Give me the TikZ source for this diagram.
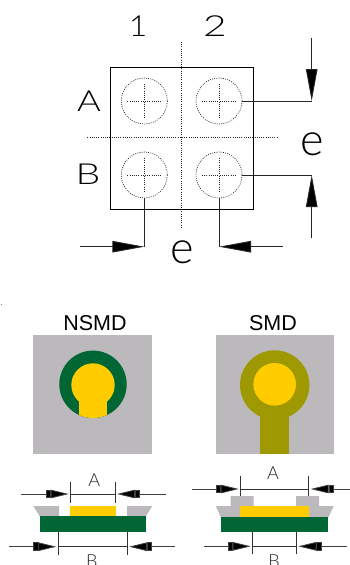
\documentclass[tikz,border=0pt]{standalone}
\usepackage{fontspec}
\setmainfont{Liberation Sans}
\newfontfamily\thinfont{Lato Light}
\usetikzlibrary{arrows.meta}
\definecolor{padgrey}{HTML}{BBB9BC}
\definecolor{pcbgreen}{HTML}{006633}
\definecolor{padyellow}{HTML}{FFCC00}
\definecolor{padolive}{HTML}{9E9900}
\tikzset{
  x=1pt,y=-1pt,
  outline/.style={draw=black,line width=0.9pt},
  dotline/.style={draw=black!85,line width=0.7pt,dash pattern=on 0.9pt off 1.3pt},
  leader/.style={draw=black!85,line width=0.9pt},
  bigtip/.style={leader,-{Triangle[length=32pt,width=11.5pt,fill=black]}},
  smalltip/.style={draw=black!75,line width=0.8pt,-{Square[length=5pt,width=8.5pt,fill=black]Triangle[length=18pt,width=8.5pt,fill=black]}},
  tick/.style={draw=black!80,line width=0.7pt},
  biglabel/.style={anchor=base,inner sep=0pt,font=\thinfont\fontsize{29}{29}\selectfont},
  elabel/.style={anchor=base,inner sep=0pt,font=\thinfont\fontsize{45}{45}\selectfont},
  smalllabel/.style={anchor=base,inner sep=0pt,font=\thinfont\fontsize{18}{18}\selectfont,text=black!85},
  title/.style={anchor=base,inner sep=0pt,font=\fontsize{21.5}{21.5}\selectfont},
}
\begin{document}
\begin{tikzpicture}
\useasboundingbox (0,0) rectangle (350,565);
% --- top: ball grid
\draw[outline] (110.3,67.3) rectangle (253.7,209);
\draw[dotline] (181.7,42) -- (181.7,229);
\draw[dotline] (87.3,137.7) -- (276.7,137.7);
\foreach \n/\cx/\cy in {a1/144.3/101,a2/219/101,b1/144.3/175,b2/219/175}{
  \coordinate (\n) at (\cx,\cy);
  \draw[dotline] (\n) circle[radius=23];
  \draw[dotline] (\cx-17,\cy) -- (\cx+17,\cy);
  \draw[dotline] (\cx,\cy-17) -- (\cx,\cy+17);
}
\coordinate (a2e) at (241.9,101);
\coordinate (b2e) at (241.9,175);
\coordinate (b1s) at (144.3,198);
\coordinate (b2s) at (219,198);
\coordinate (rt) at (311.7,101);
\coordinate (rb) at (311.7,175);
\coordinate (bl) at (144.3,246.7);
\coordinate (br) at (219,246.7);
\coordinate (rtf) at (311.7,37.7);
\coordinate (rbf) at (311.7,238.3);
\coordinate (blf) at (80,246.7);
\coordinate (brf) at (283.3,246.7);
\draw[leader] (a2e) -- (rt);
\draw[leader] (b2e) -- (rb);
\draw[leader] (b1s) -- (bl);
\draw[leader] (b2s) -- (br);
\draw[bigtip] (rtf) -- (rt);
\draw[bigtip] (rbf) -- (rb);
\draw[bigtip] (blf) -- (bl);
\draw[bigtip] (brf) -- (br);
\node[biglabel,xscale=1.1] (n1) at (138,36) {1};
\node[biglabel,xscale=1.4] (n2) at (215,36) {2};
\node[biglabel,xscale=1.25] (la) at (89,111.7) {A};
\node[biglabel,xscale=1.35] (lb) at (88,184.3) {B};
\node[elabel] (er) at (312,155) {e};
\node[elabel] (eb) at (182,263.3) {e};
% --- stray speck
\fill[black!50] (0.5,303.7) rectangle (2,304.5);
% --- pad views
\node[title] (nsmd) at (95,330.7) {NSMD};
\node[title] (smd) at (273,330.7) {SMD};
\fill[padgrey] (33.3,335) rectangle (152.3,453.7);
\fill[padgrey] (216,335) rectangle (333.7,453.7);
\fill[pcbgreen] (93,384.3) circle[radius=33.7];
\begin{scope}
  \clip (93,384.3) circle[radius=33.7];
  \fill[padyellow] (93,385) circle[radius=21.7];
  \fill[padyellow] (79,385) rectangle (107,425);
\end{scope}
\fill[padolive] (274.7,385) circle[radius=34.7];
\fill[padolive] (260.3,400) rectangle (289,453.7);
\fill[padyellow] (274.7,384.3) circle[radius=21.3];
% --- left section
\fill[padgrey] (33.3,506) -- (59,506) -- (59,516.7) -- (40,516.7) -- cycle;
\fill[padgrey] (127,506) -- (152.3,506) -- (145.7,516.7) -- (127,516.7) -- cycle;
\fill[padyellow] (70,506) rectangle (115.7,516.4);
\fill[pcbgreen] (40,516) rectangle (145.7,531.7);
\coordinate (lat) at (70.7,494);
\coordinate (rat) at (115,494);
\coordinate (lbt) at (58.3,546.7);
\coordinate (rbt) at (127,546.7);
\coordinate (laf) at (21,494);
\coordinate (raf) at (165.7,494);
\coordinate (lbf) at (9,546.7);
\coordinate (rbf2) at (175,546.7);
\draw[tick] (70.7,481.7) -- (70.7,503);
\draw[tick] (115,481.7) -- (115,503);
\draw[tick] (58.3,531.7) -- (58.3,555);
\draw[tick] (127,531.7) -- (127,555);
\draw[tick] (lat) -- (rat);
\draw[tick] (lbt) -- (rbt);
\draw[smalltip] (laf) -- ([xshift=-2pt]lat);
\draw[smalltip] (raf) -- ([xshift=2pt]rat);
\draw[smalltip] (lbf) -- ([xshift=-2pt]lbt);
\draw[smalltip] (rbf2) -- ([xshift=2pt]rbt);
\node[smalllabel] (sa1) at (94.3,486) {A};
\node[smalllabel] (sb1) at (91.7,567.3) {B};
% --- right section
\fill[padgrey] (230.7,496) -- (253.7,496) -- (253.7,506) -- (296,506) -- (296,496) -- (319,496) -- (319,506) -- (333.7,506) -- (328.3,517.5) -- (221,517.5) -- (215.7,506) -- (230.7,506) -- cycle;
\fill[padyellow] (240.3,506) rectangle (309,517.5);
\fill[pcbgreen] (221,517.3) rectangle (328.3,531.7);
\coordinate (lat2) at (240.7,489);
\coordinate (rat2) at (308.7,489);
\coordinate (lbt2) at (252.7,546.3);
\coordinate (rbt2) at (296.3,546.3);
\coordinate (laf2) at (191.7,489);
\coordinate (raf2) at (350,489);
\coordinate (lbf2) at (204,546.3);
\coordinate (rbf3) at (347.3,546.3);
\draw[tick] (240.7,476) -- (240.7,496);
\draw[tick] (308.7,476) -- (308.7,496);
\draw[tick] (252.7,531.7) -- (252.7,554.3);
\draw[tick] (296.3,531.7) -- (296.3,554.3);
\draw[tick] (lat2) -- (rat2);
\draw[tick] (lbt2) -- (rbt2);
\draw[smalltip] (laf2) -- ([xshift=-2pt]lat2);
\draw[smalltip] (raf2) -- ([xshift=2pt]rat2);
\draw[smalltip] (lbf2) -- ([xshift=-2pt]lbt2);
\draw[smalltip] (rbf3) -- ([xshift=2pt]rbt2);
\node[smalllabel] (sa2) at (273,479.3) {A};
\node[smalllabel] (sb2) at (274,567.3) {B};
\end{tikzpicture}
\end{document}
